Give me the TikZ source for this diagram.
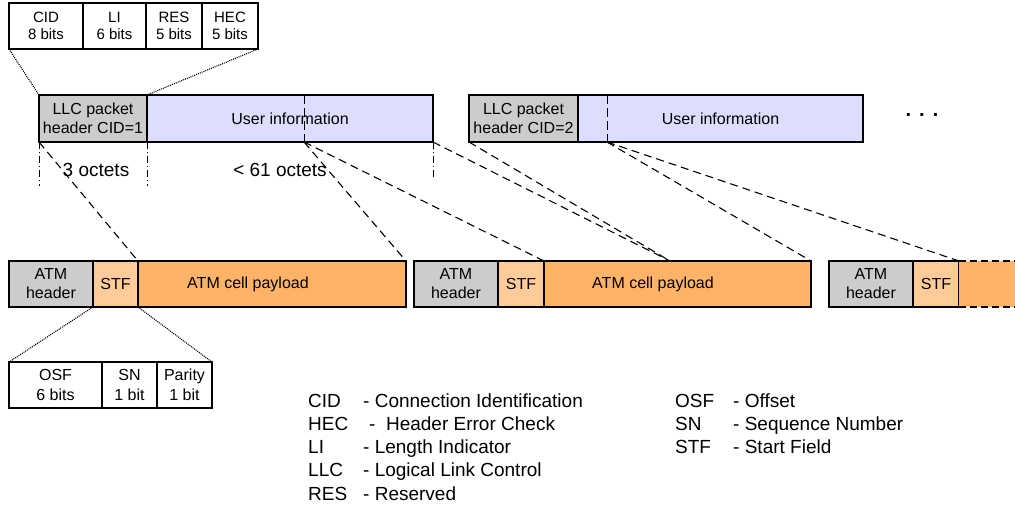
\documentclass[tikz,border=0pt]{standalone}
\usepackage{fontspec}
\setmainfont{Liberation Sans}
\usepackage{tikz}
\definecolor{hdrgray}{RGB}{204,204,204}
\definecolor{userblue}{RGB}{221,221,255}
\definecolor{stforange}{RGB}{255,204,153}
\definecolor{payorange}{RGB}{255,179,102}
\tikzstyle{fld} = [draw, line width=1.2pt, inner sep=0pt, outer sep=0pt,
minimum height=46, align=center, font=\fontsize{16}{19}\selectfont]
\tikzstyle{bitf} = [fld, fill=white, font=\fontsize{15}{16.5}\selectfont]
\tikzstyle{hdr} = [fld, fill=hdrgray]
\tikzstyle{usr} = [fld, fill=userblue, minimum height=47]
\tikzstyle{stf} = [fld, fill=stforange]
\tikzstyle{pay} = [fld, fill=payorange]
\tikzstyle{mapline} = [line width=1.1pt, dash pattern=on 8pt off 5pt]
\tikzstyle{zoomline} = [line width=1.1pt, dash pattern=on 1pt off 1pt]
\tikzstyle{octmark} = [line width=0.7pt, dash pattern=on 7pt off 3pt on 1pt off 3pt]
\tikzstyle{lbl} = [font=\fontsize{19}{22}\selectfont]
\tikzstyle{leg} = [anchor=base west, inner sep=0pt, font=\fontsize{19}{22}\selectfont]

\begin{document}
\begin{tikzpicture}[x=1pt, y=-1pt]
                    \useasboundingbox (0,0) rectangle (1015,506);
                    % LLC header bits
                    \node[bitf, minimum width=74] (cid) at (46,26) {CID\\8 bits};
                    \node[bitf, minimum width=63] (li) at (114.5,26) {LI\\6 bits};
                    \node[bitf, minimum width=56] (res) at (174,26) {RES\\5 bits};
                    \node[bitf, minimum width=56] (hec) at (230,26) {HEC\\5 bits};
                    % LLC packets
                    \node[hdr, minimum width=108, minimum height=47] (llc1) at (93,118.5) {LLC packet\\header CID=1};
                    \node[usr, minimum width=286] (user1) at (290,118.5) {User information};
                    \node[hdr, minimum width=109, minimum height=47] (llc2) at (523.5,118.5) {LLC packet\\header CID=2};
                    \node[usr, minimum width=285] (user2) at (720.5,118.5) {User information};
                    \node[font=\fontsize{20}{22}\selectfont\bfseries] (more) at (922,115) {.\hspace{8pt}.\hspace{8pt}.};
                    \coordinate (mk1top) at (304,95);
                    \coordinate (mk1) at (304,142);
                    \coordinate (mk2top) at (607,95);
                    \coordinate (mk2) at (607,142);
                    \draw[line width=1pt, dash pattern=on 9pt off 4pt] (mk1top) -- (mk1);
                    \draw[line width=1pt, dash pattern=on 9pt off 4pt] (mk2top) -- (mk2);
                    % octet marks
                    \coordinate (oct1) at (39,186);
                    \coordinate (oct2) at (147,186);
                    \coordinate (oct3) at (433,180);
                    \draw[octmark] (llc1.south west) -- (oct1);
                    \draw[octmark] (llc1.south east) -- (oct2);
                    \draw[octmark] (user1.south east) -- (oct3);
                    \node[lbl] (hdrlen) at (96,170) {3 octets};
                    \node[lbl] (userlen) at (280,170) {< 61 octets};
                    % ATM cells
                    \node[hdr, minimum width=84] (atm1) at (51,284) {ATM\\header};
                    \node[stf, minimum width=45] (stf1) at (115.5,284) {STF};
                    \node[pay, minimum width=268] (pay1) at (272,284) {};
                    \node[font=\fontsize{16}{19}\selectfont] (pay1txt) at (248,284) {ATM cell payload};
                    \node[hdr, minimum width=84] (atm2) at (456,284) {ATM\\header};
                    \node[stf, minimum width=46] (stf2) at (521,284) {STF};
                    \node[pay, minimum width=267] (pay2) at (677.5,284) {};
                    \node[font=\fontsize{16}{19}\selectfont] (pay2txt) at (653,284) {ATM cell payload};
                    \node[hdr, minimum width=84] (atm3) at (871,284) {ATM\\header};
                    \node[stf, minimum width=46] (stf3) at (936,284) {STF};
                    \node[pay, draw=none, minimum width=56] (pay3) at (987,284) {};
                    \draw[line width=1.2pt, dash pattern=on 7pt off 4pt] (pay3.north west) -- (pay3.north east);
                    \draw[line width=1.2pt, dash pattern=on 7pt off 4pt] (pay3.south west) -- (pay3.south east);
                    % STF bits
                    \node[fld, fill=white, minimum width=93, font=\fontsize{16}{20}\selectfont] (osf) at (55.5,385) {OSF\\6 bits};
                    \node[fld, fill=white, minimum width=55, font=\fontsize{16}{20}\selectfont] (sn) at (129.5,385) {SN\\1 bit};
                    \node[fld, fill=white, minimum width=55, font=\fontsize{16}{20}\selectfont] (par) at (184.5,385) {Parity\\1 bit};
                    \draw[zoomline] (cid.south west) -- (llc1.north west);
                    \draw[zoomline] (hec.south east) -- (llc1.north east);
                    \draw[zoomline] (stf1.south west) -- (osf.north west);
                    \draw[zoomline] (stf1.south east) -- (par.north east);
                    % mapping into cells
                    \coordinate (split) at (670,261);
                    \draw[mapline] (llc1.south west) -- (pay1.north west);
                    \draw[mapline] (mk1) -- (pay1.north east);
                    \draw[mapline] (mk1) -- (pay2.north west);
                    \draw[mapline] (user1.south east) -- (split);
                    \draw[mapline] (llc2.south west) -- (split);
                    \draw[mapline] (mk2) -- (pay2.north east);
                    \draw[mapline] (mk2) -- (pay3.north west);
                    % legend
                    \node[leg] (cidk) at (308,407) {CID};
                    \node[leg] (cidv) at (363,407) {- Connection Identification};
                    \node[leg] (heck) at (308,430) {HEC};
                    \node[leg] (hecv) at (369,430) {-\ \ Header Error Check};
                    \node[leg] (lik) at (308,453.5) {LI};
                    \node[leg] (liv) at (363,453.5) {- Length Indicator};
                    \node[leg] (llck) at (308,476.5) {LLC};
                    \node[leg] (llcv) at (363,476.5) {- Logical Link Control};
                    \node[leg] (resk) at (308,500) {RES};
                    \node[leg] (resv) at (363,500) {- Reserved};
                    \node[leg] (osfk) at (675,407) {OSF};
                    \node[leg] (osfv) at (733,407) {- Offset};
                    \node[leg] (snk) at (675,430) {SN};
                    \node[leg] (snv) at (733,430) {- Sequence Number};
                    \node[leg] (stfk) at (675,453.5) {STF};
                    \node[leg] (stfv) at (733,453.5) {- Start Field};
                \end{tikzpicture}
\end{document}
